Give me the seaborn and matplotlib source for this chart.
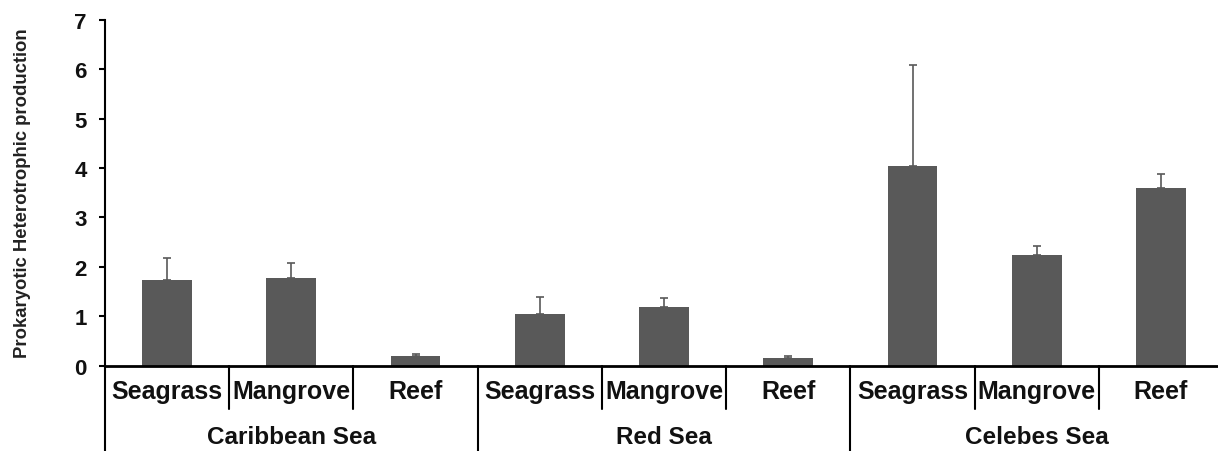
import matplotlib
matplotlib.use("Agg")
import matplotlib.pyplot as plt
import matplotlib.transforms as mtransforms
import seaborn as sns
import pandas as pd

# Data
seas = ["Caribbean Sea", "Caribbean Sea", "Caribbean Sea",
        "Red Sea", "Red Sea", "Red Sea",
        "Celebes Sea", "Celebes Sea", "Celebes Sea"]
habitats = ["Seagrass", "Mangrove", "Reef"] * 3
production = [1.74, 1.78, 0.20, 1.04, 1.19, 0.15, 4.05, 2.23, 3.59]
production_err = [0.43, 0.30, 0.03, 0.35, 0.18, 0.05, 2.03, 0.19, 0.28]
group_names = ["Caribbean Sea", "Red Sea", "Celebes Sea"]
y_ticks = [0, 1, 2, 3, 4, 5, 6, 7]

sns.set_theme(style="white")
plt.rcParams["font.family"] = ["Liberation Sans", "DejaVu Sans"]
plt.rcParams["font.weight"] = "bold"

df = pd.DataFrame({
    "key": [f"{s}|{h}" for s, h in zip(seas, habitats)],
    "sea": seas,
    "habitat": habitats,
    "value": production,
    "err": production_err,
})

bar_color = "#595959"

fig = plt.figure(figsize=(12.18, 4.52), dpi=100)
ax = fig.add_axes([0.0862, 0.189, 0.918, 0.765])

sns.barplot(data=df, x="key", y="value", order=list(df["key"]),
            color=bar_color, width=0.4, errorbar=None, saturation=1,
            edgecolor="none", ax=ax)

# Upper-only error bars
xs = list(range(len(df)))
ax.errorbar(xs, df["value"], yerr=[[0] * len(df), df["err"]], fmt="none",
            ecolor=bar_color, elinewidth=1.2, capsize=3, capthick=1.2, zorder=3)

ax.set_xlim(-0.5, len(df) - 0.5)
ax.set_ylim(0, 7)
ax.set_yticks(y_ticks)
ax.set_yticklabels([str(t) for t in y_ticks], fontsize=16, fontweight="bold")
ax.tick_params(axis="y", direction="out", length=4, width=1.5, pad=9,
               left=True, color="black", labelcolor="#111111")

# Habitat labels under each bar
ax.set_xticks(xs)
ax.set_xticklabels(df["habitat"], fontsize=18, fontweight="bold",
                   color="#111111")
ax.tick_params(axis="x", length=0, pad=10)
ax.set_xlabel("")

ax.set_ylabel("Prokaryotic Heterotrophic production", fontsize=13.3,
              fontweight="bold", color="#222222")
ax.yaxis.set_label_coords(-0.066, 0.5)

sns.despine(ax=ax, top=True, right=True)
ax.spines["left"].set_linewidth(1.5)
ax.spines["left"].set_color("black")
ax.spines["bottom"].set_linewidth(2)
ax.spines["bottom"].set_color("black")

# Separators in the category axis
trans = mtransforms.blended_transform_factory(ax.transData, ax.transAxes)
for b in [0.5, 1.5, 3.5, 4.5, 6.5, 7.5]:
    ax.plot([b, b], [0, -0.125], color="black", lw=1.5,
            transform=trans, clip_on=False)
for b in [-0.5, 2.5, 5.5, 8.5]:
    ax.plot([b, b], [0, -0.25], color="black", lw=1.5,
            transform=trans, clip_on=False)

# Sea group labels
for i, name in enumerate(group_names):
    ax.text(3 * i + 1, -0.205, name, transform=trans, ha="center",
            va="center", fontsize=17.5, fontweight="bold", color="#111111")

fig.savefig("out.png", dpi=100)
